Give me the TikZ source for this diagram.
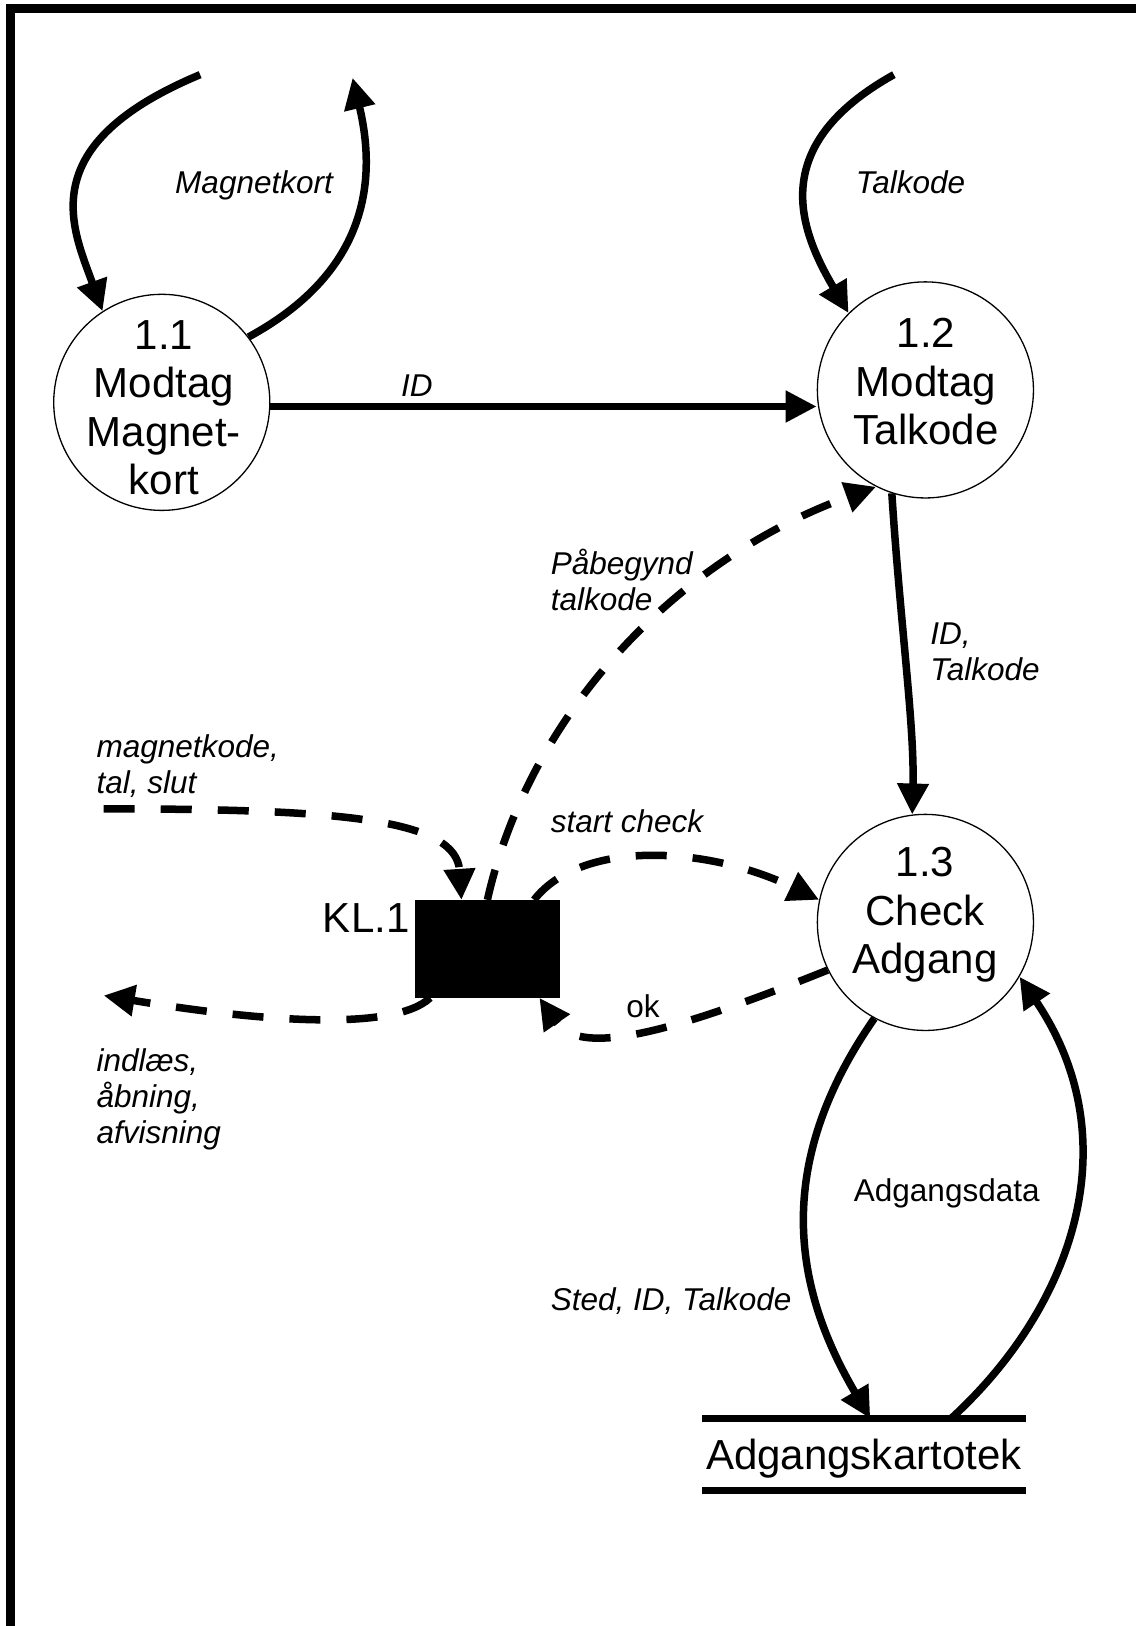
\documentclass[tikz,border=0pt]{standalone}
\usepackage{fontspec}
\setmainfont{Liberation Sans}
\usetikzlibrary{arrows.meta,calc}

\begin{document}
\begin{tikzpicture}[x=1.0365pt, y=-1.0365pt,
  proc/.style={circle, draw, line width=1.3pt, minimum size=216pt, inner sep=0pt},
  proctext/.style={align=center, inner sep=0pt, font=\fontsize{42}{48.5}\selectfont,
    execute at begin node=\strut, execute at end node=\strut},
  flow/.style={line width=7.5pt, -{Triangle[length=31pt,width=30pt]}},
  ctrl/.style={flow, dash pattern=on 31pt off 26pt},
  lab/.style={align=left, inner sep=0pt, font=\fontsize{31.5}{36}\selectfont\itshape,
    execute at begin node=\strut, execute at end node=\strut},
  plainlab/.style={lab, font=\fontsize{31.5}{36}\selectfont\upshape},
  filestore/.style={inner sep=0pt, minimum width=323pt, minimum height=71.5pt,
    text height=30.5pt, text depth=0pt, font=\fontsize{42}{48.5}\selectfont},
  ctrlbox/.style={fill=black, inner sep=0pt, minimum width=145pt, minimum height=97.5pt},
]
\useasboundingbox (0,0) rectangle (1095,1568);

% frame
\draw[line width=9pt] (10.1,1568) -- (10.1,8.2) -- (1095,8.2);

% processes
\node[proc] (c11) at (156,388) {};
\node[proc] (c12) at (892.4,376) {};
\node[proc] (c13) at (892.4,889.5) {};
\node[proctext] (t11) at (158,400) {1.1\\Modtag\\Magnet-\\kort};
\node[proctext] (t12) at (893,375) {1.2\\Modtag\\Talkode};
\node[proctext] (t13) at (892,885) {1.3\\Check\\Adgang};

% control process and data store
\node[ctrlbox] (kl) at (470,915) {};
\node[proctext, anchor=east] (kllab) at (395,890) {KL.1};
\node[filestore] (st) at (833,1402.5) {Adgangskartotek};
\draw[line width=7pt] (st.north west) -- (st.north east);
\draw[line width=7pt] (st.south west) -- (st.south east);

% free ends
\coordinate (mkin) at (193,72);
\coordinate (mkout) at (340,75);
\coordinate (tkin) at (862,72);
\coordinate (kin) at (100,780);
\coordinate (kout) at (100,960);
\coordinate (idstart) at ($(c11.east)+(0,4)$);

% data flows
\draw[flow] (mkin) .. controls (30,140) and (70,220) .. (c11.123);
\draw[flow] (c11.37) .. controls (350,265) and (365,180) .. (mkout);
\draw[flow] (tkin) .. controls (740,140) and (770,220) .. (c12.135);
\draw[flow] (idstart) -- (idstart -| c12.west);
\draw[flow] (c12.252) .. controls (868,600) and (882,700) .. (c13.97);
\draw[flow] (c13.242) .. controls (740,1130) and (770,1250) .. ($(st.north west)!0.52!(st.north east)$);
\draw[flow] ($(st.north west)!0.77!(st.north east)$) .. controls (1035,1260) and (1090,1100) .. (c13.330);

% control flows
\draw[ctrl] (kl.north) .. controls (510,690) and (650,540) .. (c12.243);
\draw[ctrl] (kin) .. controls (330,780) and (440,790) .. ($(kl.north)+(-25,0)$);
\draw[ctrl] ($(kl.north)+(45,0)$) .. controls (560,810) and (680,815) .. (c13.168);
\draw[ctrl] (c13.206) .. controls (650,995) and (560,1020) .. ($(kl.south east)+(-20,0)$);
\draw[ctrl] ($(kl.south west)+(15,0)$) .. controls (380,995) and (250,985) .. (kout);

% labels
\node[lab] (lmk) at (245,180) {Magnetkort};
\node[lab] (ltk) at (878,180) {Talkode};
\node[lab] (lid) at (402,375) {ID};
\node[lab, anchor=west] (lidt) at (897,634) {ID,\\Talkode};
\node[lab, anchor=west] (lpt) at (531,564) {Påbegynd\\talkode};
\node[lab, anchor=west] (lmts) at (93,742) {magnetkode,\\tal, slut};
\node[lab, anchor=west] (lsc) at (531,796) {start check};
\node[plainlab] (lok) at (620,974) {ok};
\node[lab, anchor=west] (liaa) at (93,1062) {indlæs,\\åbning,\\afvisning};
\node[lab, anchor=west] (lsit) at (531,1257) {Sted, ID, Talkode};
\node[plainlab] (lad) at (913,1152) {Adgangsdata};
\end{tikzpicture}
\end{document}
